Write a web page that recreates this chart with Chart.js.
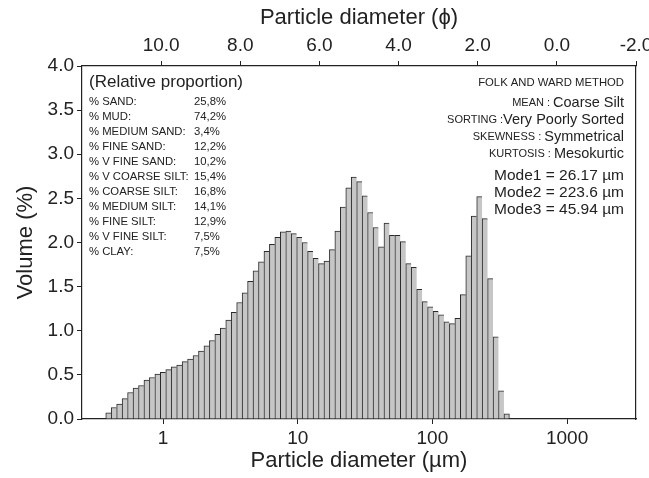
<!DOCTYPE html>
<html>
<head>
<meta charset="utf-8">
<script src="https://cdn.jsdelivr.net/npm/chart.js@4.4.1/dist/chart.umd.min.js"></script>
<style>
  html, body { margin: 0; padding: 0; background: #fff; overflow: hidden; }
  #wrap { position: relative; width: 649px; height: 478px; }
</style>
</head>
<body>
<div id="wrap"><canvas id="psd"></canvas></div>
<script>
// channel edges of the size analyser (µm), 74 bins
const binEdges = [
  0.375, 0.412, 0.452, 0.496, 0.545, 0.598, 0.657, 0.721, 0.791, 0.869,
  0.954, 1.047, 1.149, 1.261, 1.385, 1.520, 1.669, 1.832, 2.011, 2.208,
  2.423, 2.660, 2.920, 3.206, 3.519, 3.863, 4.240, 4.655, 5.110, 5.610,
  6.158, 6.760, 7.421, 8.147, 8.943, 9.817, 10.78, 11.83, 12.99, 14.26,
  15.65, 17.18, 18.86, 20.70, 22.73, 24.95, 27.39, 30.07, 33.01, 36.24,
  39.78, 43.67, 47.94, 52.62, 57.77, 63.41, 69.61, 76.42, 83.89, 92.09,
  101.1, 111.0, 121.8, 133.7, 146.8, 161.2, 176.9, 194.2, 213.2, 234.1,
  256.9, 282.1, 309.6, 339.9, 373.1
];

// volume % per bin
const volume = [
  0.07, 0.13, 0.17, 0.23, 0.30, 0.35, 0.38, 0.44, 0.47, 0.51,
  0.53, 0.56, 0.59, 0.61, 0.65, 0.68, 0.72, 0.77, 0.83, 0.89,
  0.96, 1.03, 1.12, 1.21, 1.32, 1.43, 1.56, 1.68, 1.78, 1.90,
  1.98, 2.06, 2.12, 2.13, 2.10, 2.06, 2.00, 1.90, 1.82, 1.76,
  1.79, 1.92, 2.13, 2.40, 2.62, 2.74, 2.69, 2.53, 2.34, 2.17,
  1.95, 2.22, 2.08, 2.08, 2.01, 1.76, 1.72, 1.47, 1.33, 1.27,
  1.22, 1.18, 1.10, 1.08, 1.14, 1.41, 1.85, 2.30, 2.52, 2.27,
  1.59, 0.93, 0.32, 0.06
];

const umTicks = [1, 10, 100, 1000];
const phiTicks = [10, 8, 6, 4, 2, 0, -2];

const fractionNames = [
  '% SAND:', '% MUD:', '% MEDIUM SAND:', '% FINE SAND:', '% V FINE SAND:',
  '% V COARSE SILT:', '% COARSE SILT:', '% MEDIUM SILT:', '% FINE SILT:',
  '% V FINE SILT:', '% CLAY:'
];
const fractionValues = [
  '25,8%', '74,2%', '3,4%', '12,2%', '10,2%',
  '15,4%', '16,8%', '14,1%', '12,9%', '7,5%', '7,5%'
];
const statKeys = ['MEAN : ', 'SORTING :', 'SKEWNESS : ', 'KURTOSIS : '];
const statValues = ['Coarse Silt', 'Very Poorly Sorted', 'Symmetrical', 'Mesokurtic'];
const modeLines = ['Mode1 = 26.17 µm', 'Mode2 = 223.6 µm', 'Mode3 = 45.94 µm'];

const FONT = '"Liberation Sans", Arial, Helvetica, sans-serif';
const INK = '#222';

// bar sits on the geometric centre of its channel (log axis)
const points = volume.map((v, i) => ({
  x: Math.sqrt(binEdges[i] * binEdges[i + 1]),
  y: v
}));

function fixBox(size) {
  return function (scale) {
    if (scale.isHorizontal()) scale.height = size;
    else scale.width = size;
    scale.paddingLeft = 0;
    scale.paddingRight = 0;
    scale.paddingTop = 0;
    scale.paddingBottom = 0;
  };
}

const notesPlugin = {
  id: 'notes',
  afterDraw(chart) {
    const { ctx, chartArea: a } = chart;
    ctx.save();
    ctx.fillStyle = INK;
    ctx.textBaseline = 'middle';

    // left block
    ctx.textAlign = 'left';
    ctx.font = '17px ' + FONT;
    ctx.fillText('(Relative proportion)', a.left + 7, 82);
    ctx.font = '11.3px ' + FONT;
    fractionNames.forEach((n, i) => {
      const y = 102 + i * 15;
      ctx.fillText(n, a.left + 7, y);
      ctx.fillText(fractionValues[i], a.left + 112, y);
    });

    // right block
    ctx.textAlign = 'right';
    const rx = a.right - 12;
    ctx.font = '11.3px ' + FONT;
    ctx.fillText('FOLK AND WARD METHOD', rx, 83);
    statKeys.forEach((k, i) => {
      const y = 102.5 + i * 17.3;
      ctx.font = '14.5px ' + FONT;
      ctx.fillText(statValues[i], rx, y);
      const w = ctx.measureText(statValues[i]).width;
      ctx.font = '11px ' + FONT;
      ctx.fillText(k, rx - w, y);
    });
    ctx.font = '15.5px ' + FONT;
    modeLines.forEach((m, i) => ctx.fillText(m, rx, 176 + i * 17));
    ctx.restore();
  }
};

new Chart(document.getElementById('psd'), {
  type: 'bar',
  data: {
    datasets: [{
      data: points,
      backgroundColor: '#c6c6c6',
      borderColor: '#2a2a2a',
      borderWidth: c => ({ top: 1, left: 1, bottom: 0, right: c.dataIndex === volume.length - 1 ? 1 : 0 }),
      borderSkipped: false,
      barPercentage: 1.0,
      categoryPercentage: 1.0
    }]
  },
  options: {
    responsive: true,
    maintainAspectRatio: false,
    animation: false,
    layout: { padding: { left: 0, right: 13, top: 0, bottom: 0 } },
    plugins: { legend: { display: false }, tooltip: { enabled: false } },
    scales: {
      x: {
        type: 'logarithmic',
        position: 'bottom',
        min: 0.25,
        max: 3250,
        offset: false,
        afterBuildTicks: s => { s.ticks = umTicks.map(v => ({ value: v })); },
        afterFit: fixBox(59),
        grid: { offset: false, drawOnChartArea: false, color: INK, tickLength: 5 },
        border: { color: INK, width: 1.2 },
        ticks: {
          color: INK, padding: 3, maxRotation: 0, autoSkip: false,
          font: { family: FONT, size: 19 },
          callback: v => String(v)
        },
        title: {
          display: true, text: 'Particle diameter (µm)', color: INK,
          font: { family: FONT, size: 22 }, padding: { top: 0, bottom: 4 }
        }
      },
      x2: {
        type: 'linear',
        position: 'top',
        axis: 'x',
        min: -2,
        max: 12,
        reverse: true,
        offset: false,
        afterBuildTicks: s => { s.ticks = phiTicks.map(v => ({ value: v })); },
        afterFit: fixBox(66),
        grid: { offset: false, drawOnChartArea: false, color: INK, tickLength: 5 },
        border: { color: INK, width: 1.2 },
        ticks: {
          color: INK, padding: 4, maxRotation: 0, autoSkip: false,
          font: { family: FONT, size: 19 },
          callback: v => v.toFixed(1)
        },
        title: {
          display: true, text: 'Particle diameter (ϕ)', color: INK,
          font: { family: FONT, size: 22 }, padding: { top: 5, bottom: 0 }
        }
      },
      y: {
        position: 'left',
        min: 0,
        max: 4,
        afterFit: fixBox(82),
        grid: { drawOnChartArea: false, color: INK, tickLength: 5 },
        border: { color: INK, width: 1.2 },
        ticks: {
          stepSize: 0.5, color: INK, padding: 3,
          font: { family: FONT, size: 19 },
          callback: v => v.toFixed(1)
        },
        title: {
          display: true, text: 'Volume (%)', color: INK,
          font: { family: FONT, size: 22 }, padding: { top: 13, bottom: 0 }
        }
      },
      y2: {
        position: 'right',
        axis: 'y',
        min: 0,
        max: 4,
        afterFit: fixBox(0),
        grid: { drawOnChartArea: false, drawTicks: false },
        border: { color: INK, width: 1.2 },
        ticks: { display: false }
      }
    }
  },
  plugins: [notesPlugin]
});
</script>
</body>
</html>
